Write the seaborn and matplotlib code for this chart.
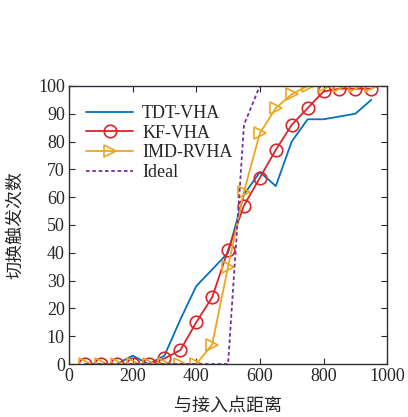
import numpy as np
import pandas as pd
import seaborn as sns
import matplotlib.pyplot as plt

# data
distance = [50, 100, 150, 200, 250, 300, 350, 400, 450, 500,
            550, 600, 650, 700, 750, 800, 850, 900, 950]
tdt_vha = [0, 0, 0, 3, 0, 3, 16, 28, 34, 40,
           61, 69, 64, 80, 88, 88, 89, 90, 95]
kf_vha = [0, 0, 0, 0, 0, 2, 5, 15, 24, 41,
          57, 67, 77, 86, 92, 98, 99, 99, 99]
imd_rvha = [0, 0, 0, 0, 0, 0, 0, 0, 7, 35,
            62, 83, 92, 97, 100, 100, 100, 100, 100]
ideal = [0, 0, 0, 0, 0, 0, 0, 0, 0, 0,
         86, 100, 100, 100, 100, 100, 100, 100, 100]

sns.set_style("ticks")
plt.rcParams['font.family'] = ['Liberation Serif', 'Noto Sans CJK SC']
plt.rcParams['xtick.direction'] = 'in'
plt.rcParams['ytick.direction'] = 'in'

fig = plt.figure(figsize=(4.08, 4.17), dpi=100)
ax = fig.add_axes([0.169, 0.127, 0.78, 0.667])

sns.lineplot(x=distance, y=tdt_vha, ax=ax, color='#0072BD', lw=1.3, label='TDT-VHA')
sns.lineplot(x=distance, y=kf_vha, ax=ax, color='#D7262B', lw=1.3, marker='o',
             markersize=9, markerfacecolor='none', markeredgecolor='#D7262B',
             markeredgewidth=1.2, label='KF-VHA')
sns.lineplot(x=distance, y=imd_rvha, ax=ax, color='#EDA51E', lw=1.3, marker='>',
             markersize=9, markerfacecolor='none', markeredgecolor='#EDA51E',
             markeredgewidth=1.2, label='IMD-RVHA')
sns.lineplot(x=distance, y=ideal, ax=ax, color='#7030A0', lw=1.3, linestyle=(0, (2, 1.5)),
             label='Ideal')

ax.set_xlim(0, 1000)
ax.set_ylim(0, 100)
ax.set_xticks(np.arange(0, 1001, 200))
ax.set_yticks(np.arange(0, 101, 10))
ax.tick_params(labelsize=13, top=True, right=True, length=4, width=0.8, pad=3)
for s in ax.spines.values():
    s.set_linewidth(1.0)
    s.set_color('#2a3038')

ax.set_xlabel('与接入点距离', family=['Noto Sans CJK SC'], fontsize=13, labelpad=8)
ax.set_ylabel('切换触发次数', family=['Noto Sans CJK SC'], fontsize=13, labelpad=10)

leg = ax.legend(loc='upper left', bbox_to_anchor=(0.02, 0.97), frameon=False,
                fontsize=13, handlelength=2.6, handletextpad=0.5,
                labelspacing=0.15, borderaxespad=0.2)

fig.savefig('out.png', dpi=100)
